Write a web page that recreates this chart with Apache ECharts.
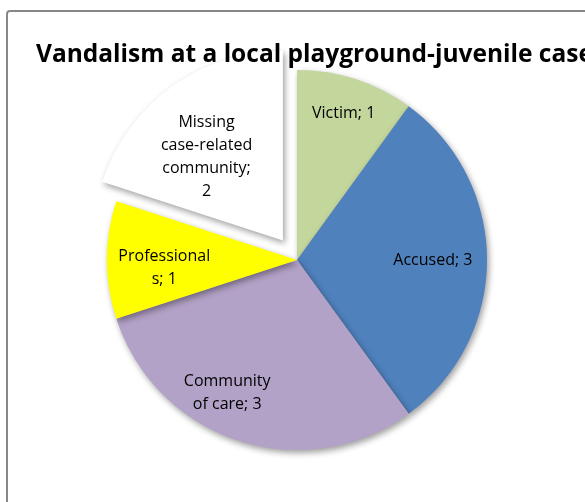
<!DOCTYPE html>
<html>
<head>
<meta charset="utf-8">
<script src="https://cdn.jsdelivr.net/npm/echarts@6/dist/echarts.min.js"></script>
<style>
  html, body { margin: 0; padding: 0; background: #fff; }
  #chart { width: 585px; height: 502px; }
</style>
</head>
<body>
<div id="chart"></div>
<script>
// Participants by group
const categories = ['Victim', 'Accused', 'Community of care', 'Professionals', 'Missing case-related community'];
const counts = [1, 3, 3, 1, 2];
// Wrapped label templates ({c} is the slice value)
const labelTemplates = ['Victim; {c}', 'Accused; {c}', 'Community\nof care; {c}', 'Professional\ns; {c}', 'Missing\ncase-related\ncommunity;\n{c}'];
const sliceColors = ['#C3D69B', '#4F81BD', '#B3A2C7', '#FFFF00', '#FFFFFF'];
const explodedIndex = 4;

// Label placement inside each slice: [fraction along the arc, fraction of radius]
const labelSpot = [[0.49, 0.81], [0.5, 0.715], [0.59, 0.79], [0.40, 0.70], [0.41, 0.595]];

const CX = 297, CY = 260, R = 190, EXPLODE = 24;
const FONT = 'Open Sans';
const total = counts.reduce((a, b) => a + b, 0);
const starts = [];
counts.reduce((acc, v) => { starts.push(acc); return acc + v; }, 0);

function midAngle(i) {
  return (starts[i] + counts[i] / 2) / total * 2 * Math.PI;
}
// Centre of a slice after it is pulled out of the pie
function sliceCenter(i) {
  if (i !== explodedIndex) return [CX, CY];
  const m = midAngle(i);
  return [CX + EXPLODE * Math.sin(m), CY - EXPLODE * Math.cos(m)];
}
function labelPos(i) {
  const a0 = starts[i] / total * 2 * Math.PI;
  const span = counts[i] / total * 2 * Math.PI;
  const ang = a0 + span * labelSpot[i][0];
  const c = sliceCenter(i);
  const r = R * labelSpot[i][1];
  return { x: c[0] + r * Math.sin(ang), y: c[1] - r * Math.cos(ang) };
}

const shadow = {
  shadowColor: 'rgba(0,0,0,0.38)',
  shadowBlur: 6,
  shadowOffsetX: 2,
  shadowOffsetY: 3
};

// Each series draws the full ring of slices but only shows its own ones
function pieSeries(showIdx, center) {
  return {
    type: 'pie',
    center: center,
    radius: [0, R],
    startAngle: 90,
    clockwise: true,
    silent: true,
    avoidLabelOverlap: false,
    emphasis: { disabled: true },
    label: {
      show: true,
      position: 'inside',
      fontFamily: FONT,
      fontSize: 16,
      lineHeight: 23,
      color: '#000000',
      align: 'center'
    },
    labelLine: { show: false },
    labelLayout: function (p) {
      const pos = labelPos(p.dataIndex);
      return { x: pos.x, y: pos.y, align: 'center', verticalAlign: 'middle' };
    },
    data: categories.map((name, i) => {
      const visible = showIdx(i);
      return {
        name: name,
        value: counts[i],
        itemStyle: visible
          ? Object.assign({ color: sliceColors[i], borderWidth: 0 }, shadow)
          : { color: 'rgba(0,0,0,0)', borderWidth: 0 },
        label: visible ? { formatter: labelTemplates[i] } : { show: false }
      };
    })
  };
}

const chart = echarts.init(document.getElementById('chart'), null, { renderer: 'canvas' });
chart.setOption({
  animation: false,
  backgroundColor: '#ffffff',
  title: {
    text: 'Vandalism at a local playground-juvenile case',
    left: 31,
    top: 38,
    textStyle: { fontFamily: FONT, fontWeight: 'bold', fontSize: 24.5, color: '#000000' }
  },
  graphic: [{
    type: 'rect',
    shape: { x: 7, y: 11, width: 640, height: 560, r: 3 },
    style: { fill: 'none', stroke: '#878787', lineWidth: 2 },
    silent: true
  }],
  series: [
    pieSeries(i => i !== explodedIndex, [CX, CY]),
    pieSeries(i => i === explodedIndex, sliceCenter(explodedIndex))
  ]
});
</script>
</body>
</html>
